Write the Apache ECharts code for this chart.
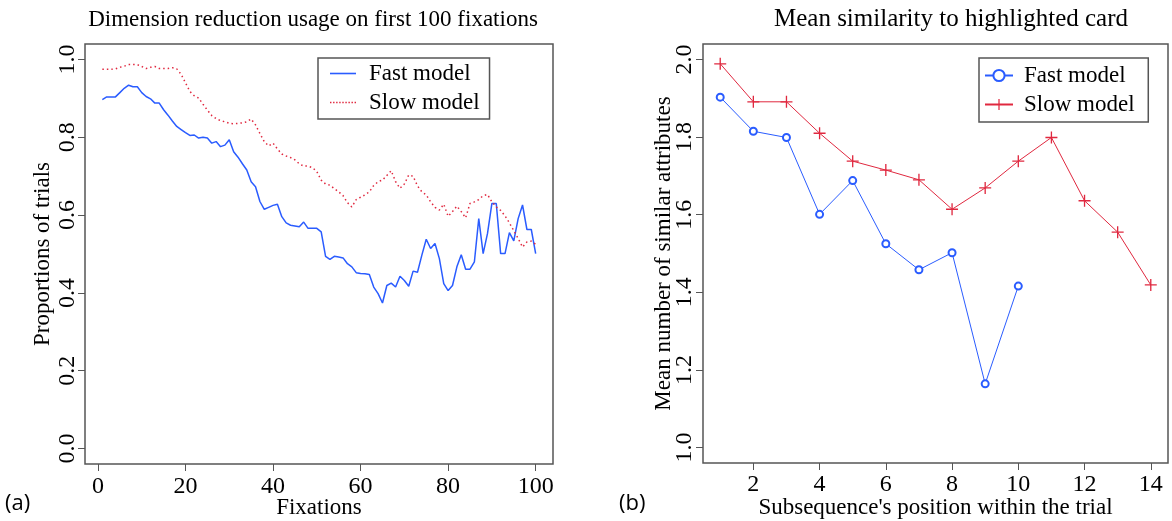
<!DOCTYPE html>
<html>
<head>
<meta charset="utf-8">
<script src="https://cdn.jsdelivr.net/npm/echarts@6/dist/echarts.min.js"></script>
<style>
html,body{margin:0;padding:0;background:#fff;}
#c{width:1172px;height:521px;}
</style>
</head>
<body>
<div id="c"></div>
<script>
// ---------- data: panel (a) ----------
const fixations = Array.from({length: 100}, (_, i) => i + 1);
const fastDim = [
  0.897,0.904,0.904,0.904,0.915,0.926,0.934,0.930,0.930,0.915,
  0.905,0.899,0.888,0.888,0.871,0.857,0.842,0.828,0.820,0.812,
  0.805,0.806,0.798,0.800,0.798,0.785,0.789,0.776,0.780,0.794,
  0.763,0.749,0.732,0.716,0.686,0.673,0.635,0.615,0.620,0.625,
  0.628,0.596,0.580,0.574,0.572,0.570,0.582,0.566,0.566,0.566,
  0.557,0.494,0.486,0.494,0.492,0.490,0.475,0.467,0.452,0.450,
  0.449,0.447,0.415,0.398,0.374,0.419,0.425,0.415,0.443,0.432,
  0.417,0.456,0.453,0.497,0.538,0.514,0.527,0.488,0.424,0.406,
  0.419,0.467,0.498,0.461,0.461,0.480,0.591,0.501,0.553,0.630,
  0.630,0.501,0.501,0.555,0.534,0.591,0.626,0.563,0.563,0.501
];
const slowDim = [
  0.975,0.975,0.975,0.976,0.980,0.983,0.987,0.987,0.987,0.982,
  0.977,0.980,0.982,0.977,0.977,0.977,0.979,0.976,0.962,0.940,
  0.918,0.907,0.901,0.885,0.870,0.856,0.848,0.843,0.840,0.836,
  0.835,0.836,0.837,0.840,0.847,0.832,0.810,0.789,0.778,0.785,
  0.770,0.757,0.752,0.748,0.742,0.732,0.726,0.726,0.722,0.712,
  0.690,0.680,0.677,0.668,0.660,0.650,0.632,0.621,0.640,0.646,
  0.652,0.660,0.676,0.686,0.690,0.702,0.714,0.686,0.669,0.680,
  0.703,0.700,0.675,0.660,0.652,0.634,0.620,0.613,0.628,0.597,
  0.609,0.623,0.609,0.593,0.630,0.634,0.640,0.650,0.653,0.634,
  0.621,0.612,0.598,0.580,0.560,0.540,0.518,0.531,0.533,0.525
];
const xTicksA = [0, 20, 40, 60, 80, 100];
const yTicksA = [0.0, 0.2, 0.4, 0.6, 0.8, 1.0];

// ---------- data: panel (b) ----------
const positionsFast = [1,2,3,4,5,6,7,8,9,10];
const fastSim = [1.903,1.815,1.799,1.601,1.688,1.525,1.458,1.502,1.164,1.416];
const positionsSlow = [1,2,3,4,5,6,7,8,9,10,11,12,13,14];
const slowSim = [1.989,1.891,1.891,1.810,1.738,1.715,1.690,1.614,1.669,1.738,1.799,1.636,1.555,1.419];
const xTicksB = [2, 4, 6, 8, 10, 12, 14];
const yTicksB = [1.0, 1.2, 1.4, 1.6, 1.8, 2.0];

const serif = 'Liberation Serif';
const BLUE = '#2a5cff';
const RED = '#e0283f';
const AX = '#555';
const plusPath = 'path://M4.45,0 L5.55,0 L5.55,4.45 L10,4.45 L10,5.55 L5.55,5.55 L5.55,10 L4.45,10 L4.45,5.55 L0,5.55 L0,4.45 L4.45,4.45 Z';
const solidIcon = 'path://M0,0 L26,0 L26,1.6 L0,1.6 Z';
let dots = '';
for (let i = 0; i < 26; i += 3.2) { dots += 'M' + i + ',0 h1.5 v1.6 h-1.5 Z '; }
const dottedIcon = 'path://' + dots;

const pairs = (xs, ys) => xs.map((x, i) => [x, ys[i]]);

function xAxis(idx, min, max, ticks, name, gap, margin) {
  return {
    type: 'value', gridIndex: idx, min: min, max: max,
    name: name, nameLocation: 'middle', nameGap: gap, nameMoveOverlap: false,
    nameTextStyle: {fontFamily: serif, fontSize: 23, color: '#000'},
    axisLine: {show: false, onZero: false},
    splitLine: {show: false},
    axisTick: {show: true, inside: false, length: 7, customValues: ticks, lineStyle: {color: AX, width: 1}},
    axisLabel: {show: true, customValues: ticks, margin: margin, fontFamily: serif, fontSize: 24, color: '#000',
      formatter: v => String(v)}
  };
}
function yAxis(idx, min, max, ticks, name, gap, margin) {
  return {
    type: 'value', gridIndex: idx, min: min, max: max,
    name: name, nameLocation: 'middle', nameGap: gap, nameMoveOverlap: false,
    nameTextStyle: {fontFamily: serif, fontSize: 23, color: '#000'},
    axisLine: {show: false, onZero: false},
    splitLine: {show: false},
    axisTick: {show: true, inside: false, length: 7, customValues: ticks, lineStyle: {color: AX, width: 1}},
    axisLabel: {show: true, customValues: ticks, margin: margin, rotate: 90, fontFamily: serif, fontSize: 24, color: '#000',
      formatter: v => v.toFixed(1)}
  };
}

const chart = echarts.init(document.getElementById('c'), null, {renderer: 'canvas'});
chart.setOption({
  animation: false,
  backgroundColor: '#fff',
  title: [
    {text: 'Dimension reduction usage on first 100 fixations', left: 308, top: 3, textAlign: 'center',
     textStyle: {fontFamily: serif, fontSize: 23, fontWeight: 'normal', color: '#000'}},
    {text: 'Mean similarity to highlighted card', left: 946, top: 2, textAlign: 'center',
     textStyle: {fontFamily: serif, fontSize: 25, fontWeight: 'normal', color: '#000'}},
    {text: '(a)', left: 0, top: 488, textStyle: {fontFamily: 'Open Sans', fontSize: 22, fontWeight: 'normal', color: '#000'}},
    {text: '(b)', left: 614, top: 488, textStyle: {fontFamily: 'Open Sans', fontSize: 22, fontWeight: 'normal', color: '#000'}}
  ],
  grid: [
    {left: 85, top: 44, width: 468, height: 420, show: true, borderColor: AX, borderWidth: 1.5,
     backgroundColor: 'transparent', containLabel: false, outerBoundsMode: 'none'},
    {left: 703, top: 44, width: 465, height: 419, show: true, borderColor: AX, borderWidth: 1.5,
     backgroundColor: 'transparent', containLabel: false, outerBoundsMode: 'none'}
  ],
  xAxis: [
    xAxis(0, -2.96, 103.96, xTicksA, 'Fixations', 32, 11),
    xAxis(1, 0.48, 14.52, xTicksB, "Subsequence's position within the trial", 33, 10)
  ],
  yAxis: [
    yAxis(0, -0.04, 1.04, yTicksA, 'Proportions of trials', 31, 5),
    yAxis(1, 0.96, 2.04, yTicksB, 'Mean number of similar attributes', 28, 6)
  ],
  legend: [
    {data: [{name: 'Fast model', icon: solidIcon}, {name: 'Slow model', icon: dottedIcon}],
     orient: 'vertical', left: 318, top: 58,
     borderColor: AX, borderWidth: 1.5, borderRadius: 0, padding: [4, 10, 5, 12], itemGap: 6,
     itemWidth: 26, itemHeight: 1.6, selectedMode: false,
     textStyle: {fontFamily: serif, fontSize: 23, color: '#000', padding: [0, 0, 0, 8]}},
    {data: ['Fast model ', 'Slow model '], orient: 'vertical', left: 979, top: 58,
     borderColor: AX, borderWidth: 1.5, borderRadius: 0, padding: [6, 8, 6, 5], itemGap: 6,
     itemWidth: 28, itemHeight: 14, selectedMode: false,
     textStyle: {fontFamily: serif, fontSize: 23, color: '#000', padding: [0, 0, 0, 6]}}
  ],
  series: [
    {name: 'Fast model', type: 'line', xAxisIndex: 0, yAxisIndex: 0, data: pairs(fixations, fastDim),
     symbol: 'none', lineStyle: {color: BLUE, width: 1.5}, itemStyle: {color: BLUE}},
    {name: 'Slow model', type: 'line', xAxisIndex: 0, yAxisIndex: 0, data: pairs(fixations, slowDim),
     symbol: 'none', lineStyle: {color: RED, width: 1.5, type: [1.5, 3]}, itemStyle: {color: RED}},
    {name: 'Fast model ', type: 'line', xAxisIndex: 1, yAxisIndex: 1, data: pairs(positionsFast, fastSim),
     symbol: 'emptyCircle', symbolSize: 7, lineStyle: {color: BLUE, width: 1},
     itemStyle: {color: BLUE, borderColor: BLUE, borderWidth: 1.2}},
    {name: 'Slow model ', type: 'line', xAxisIndex: 1, yAxisIndex: 1, data: pairs(positionsSlow, slowSim),
     symbol: plusPath, symbolSize: 12, lineStyle: {color: RED, width: 1},
     itemStyle: {color: RED, borderWidth: 0}}
  ]
});
</script>
</body>
</html>
